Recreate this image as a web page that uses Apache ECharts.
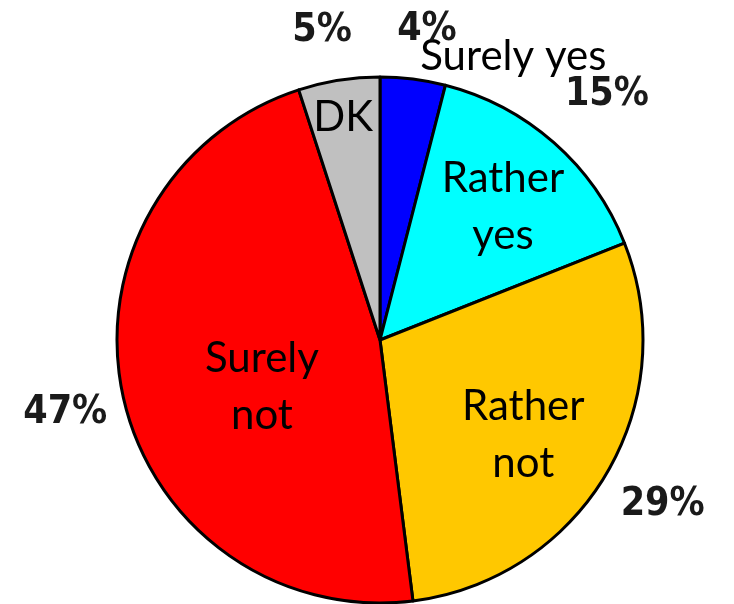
<!DOCTYPE html>
<html>
<head>
<meta charset="utf-8">
<script src="https://cdn.jsdelivr.net/npm/echarts@6/dist/echarts.min.js"></script>
<style>
  html, body { margin: 0; padding: 0; background: #fff; }
  #chart { width: 734px; height: 604px; }
</style>
</head>
<body>
<div id="chart"></div>
<script>
// Survey answers, clockwise from 12 o'clock
const categories = ['Surely yes', 'Rather yes', 'Rather not', 'Surely not', 'DK'];
const shares = [4, 15, 29, 47, 5];
const nameLabels = ['Surely yes', 'Rather\nyes', 'Rather\nnot', 'Surely\nnot', 'DK'];
const colors = ['#0000ff', '#00ffff', '#ffc800', '#ff0000', '#c0c0c0'];

// Label placement (distance from the pie centre, extra angle in degrees)
const CX = 380, CY = 340, R = 263;
const nameRadius = [313, 181, 172, 127, 226];
const nameAngleShift = [18, 1.4, 3, -9, -0.4];
const pctRadius = [314, 334, 327, 323, 315];
const pctAngleShift = [1.4, 1.4, -0.4, -0.4, -1.6];

const total = shares.reduce((a, b) => a + b, 0);
function midAngle(i) {
  let cum = 0;
  for (let k = 0; k < i; k++) cum += shares[k];
  return (cum + shares[i] / 2) / total * 360;
}
function placeAt(i, radius, shift) {
  const a = (midAngle(i) + shift) * Math.PI / 180;
  return {
    x: CX + radius * Math.sin(a),
    y: CY - radius * Math.cos(a),
    align: 'center',
    verticalAlign: 'middle'
  };
}

const chart = echarts.init(document.getElementById('chart'), null, { renderer: 'canvas' });
chart.setOption({
  animation: false,
  series: [
    {
      type: 'pie',
      center: [CX, CY],
      radius: [0, R],
      startAngle: 90,
      clockwise: true,
      silent: true,
      data: categories.map((c, i) => ({
        name: c,
        value: shares[i],
        itemStyle: { color: colors[i] }
      })),
      itemStyle: { borderColor: '#000', borderWidth: 3 },
      label: {
        show: true,
        position: 'inside',
        formatter: p => nameLabels[p.dataIndex],
        fontFamily: 'Lato',
        fontSize: 42,
        lineHeight: 57,
        color: '#000'
      },
      labelLine: { show: false },
      labelLayout: p => placeAt(p.dataIndex, nameRadius[p.dataIndex], nameAngleShift[p.dataIndex])
    },
    {
      type: 'pie',
      center: [CX, CY],
      radius: [0, R],
      startAngle: 90,
      clockwise: true,
      silent: true,
      data: categories.map((c, i) => ({ name: c, value: shares[i] })),
      itemStyle: { color: 'rgba(0,0,0,0)', borderWidth: 0 },
      label: {
        show: true,
        position: 'inside',
        formatter: '{c}%',
        fontFamily: 'DejaVu Sans Condensed',
        fontWeight: 'bold',
        fontSize: 39,
        color: '#1a1a1a'
      },
      labelLine: { show: false },
      labelLayout: p => placeAt(p.dataIndex, pctRadius[p.dataIndex], pctAngleShift[p.dataIndex])
    }
  ]
});
</script>
</body>
</html>
